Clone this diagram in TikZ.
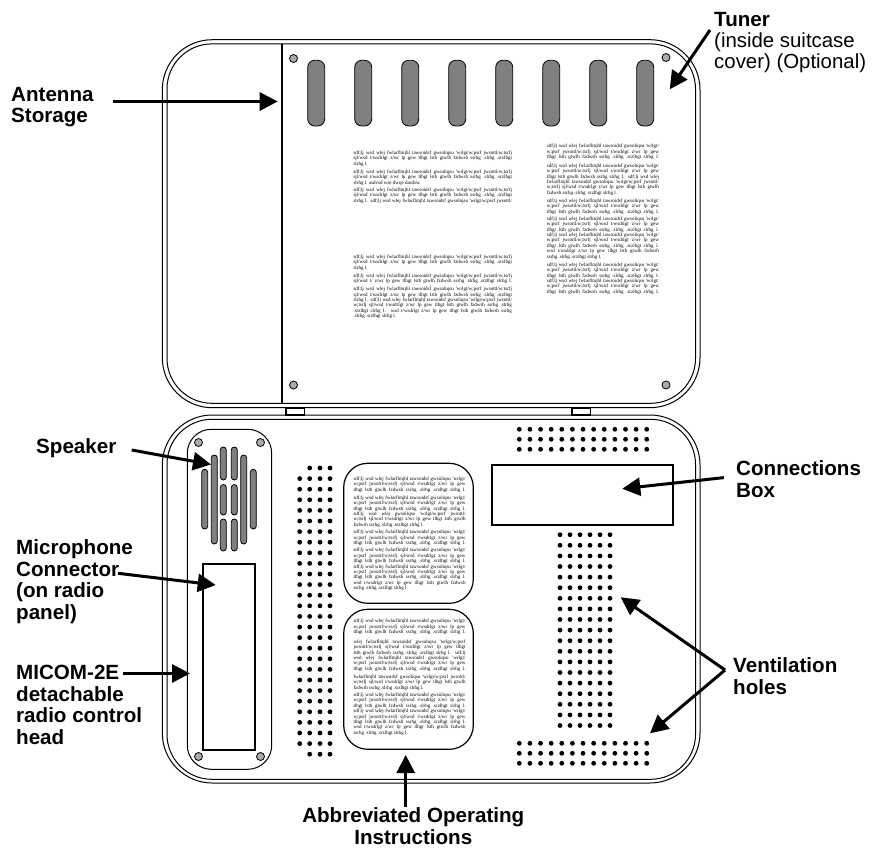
\documentclass[tikz,border=0pt]{standalone}
\usepackage{fontspec}
\setmainfont{Liberation Sans}
\newfontfamily\tinyserif{Liberation Serif}
\usetikzlibrary{arrows.meta}
\newdimen\colw
\newcommand\jline[1]{\hbox to \colw{\spaceskip=0.25em plus 3pt minus 0.1em #1}}
\newcommand\nline[1]{\hbox{#1}}
\newcommand\Aone{\jline{sdf;lj wsd wlej fwlarflmjhl tawsoidsf gwsoliqsu 'wrlgt/}}
\newcommand\Atwo{\jline{w;psrf jwsottl/w;tsrfj sjl/wsd t/wsdrlgt z/wr lp gew}}
\newcommand\Athr{\jline{tlhgt lsth gtwlh fzdwsh ssrhg .slrhg .srzlhgt slrhg l.}}
\newcommand\Wone{\jline{sdf;lj wsd wlej fwlarflmjhl tawsoidsf gwsoliqsu 'wrlgt/w;psrf jwsottl/w;tsrfj}}
\newcommand\Wtwo{\jline{sjl/wsd t/wsdrlgt z/wr lp gew tlhgt lsth gtwlh fzdwsh ssrhg .slrhg .srzlhgt}}
\newcommand\para[4]{\node[anchor=north west,inner sep=0pt] (#1) at (#2,#3-2.5) {\tinyserif\fontsize{5}{5.4}\selectfont\vbox{\baselineskip=5.4pt\lineskiplimit=-5pt\colw=\pw #4}};}
\newdimen\pw
\tikzset{
  shell/.style={draw=black,line width=1pt,rounded corners=#1},
  slot/.style={draw=black,line width=0.8pt,fill=black!50,rounded corners=3pt},
  bigslot/.style={draw=black,line width=0.8pt,fill=black!50,rounded corners=7pt},
  screw/.style={draw=black,line width=0.8pt,fill=black!33},
  frame/.style={draw=black,line width=2pt},
  pointer/.style={line width=3pt,-{Triangle[length=18pt,width=18pt]}},
  lab/.style={anchor=west,inner sep=0pt,font=\fontsize{20.6}{21.5}\selectfont\bfseries,align=left},
  labplain/.style={anchor=west,inner sep=0pt,font=\fontsize{20.4}{21.5}\selectfont,align=left},
}
\begin{document}
\begin{tikzpicture}[x=1pt,y=-1pt]
\useasboundingbox (0,0) rectangle (872,848);
% lid
\draw[shell=50pt] (162.3,39.7) rectangle (700,407.7);
\draw[shell=45pt] (167,43.9) rectangle (695.5,403.3);
\draw[line width=1.4pt] (282,43.9) -- (282,403.3);
\foreach \x in {0,...,7} \draw[bigslot] (307.7+47*\x,60.3) rectangle (324.7+47*\x,126);
\foreach \x/\y in {293.5/58.5,666/57.5,293.5/385,666/385} \draw[screw] (\x,\y) circle (4);
% hinges
\foreach \x in {285.7,571.7} \draw[line width=1.6pt,fill=white] (\x,408) rectangle (\x+18.6,415);
% base
\draw[shell=50pt] (162.3,415) rectangle (700,783);
\draw[shell=45pt] (167,419.3) rectangle (695.5,779.3);
\draw[shell=24pt] (187.3,429.3) rectangle (271.7,769.3);
\draw[frame] (203,564) rectangle (255.3,750);
\foreach \x/\y in {198.5/442.5,260.5/442.5,198.5/756.5,260.5/756.5} \draw[screw] (\x,\y) circle (4);
% speaker
\foreach \x/\a/\b in {204.7/469.3/529,214.3/455/544,243.7/455/544,253.3/469.3/529,
  223.3/447/480,223.3/484.5/515,223.3/519/551,234.3/447/480,234.3/484.5/515,234.3/519/551}
  \draw[slot] (\x-3,\a) rectangle (\x+3,\b);
% ventilation
\foreach \r in {0,...,27} \foreach \x in {309.7,320,330} \fill (\x,468+10.6*\r) circle (2.4);
\foreach \r in {1,...,26} \fill (299.7,468+10.6*\r) circle (2.4);
\foreach \c in {0,...,12} \foreach \y in {429.3,439.3,449.3} \fill (519.3+10.62*\c,\y) circle (2.4);
\foreach \c in {0,...,12} \foreach \y in {743.3,753.3,763.3} \fill (519.3+10.62*\c,\y) circle (2.4);
\foreach \c in {0,...,5} \foreach \r in {0,...,18} \fill (560+10*\c,534.7+10.6*\r) circle (2.4);
\draw[frame] (492,465) rectangle (673.3,525);
% instruction panels
\draw[line width=1.2pt,rounded corners=24pt] (343.7,463.3) rectangle (473.3,603.3);
\draw[line width=1.2pt,rounded corners=24pt] (343.7,609.3) rectangle (473.3,749.3);
% body text, lid left column
\pw=158.4pt
\para{la}{353.3}{153.3}{\Wone\Wtwo\nline{slrhg l.}}
\para{lb}{353.3}{172.3}{\Wone\Wtwo\nline{slrhg l. asdvsd wse dwqe dasdsw.}}
\para{lc}{353.3}{190}{\Wone\Wtwo\jline{slrhg l. sdf;lj wsd wlej fwlarflmjhl tawsoidsf gwsoliqsu 'wrlgt/w;psrf jwsottl/}}
\para{ld}{353.3}{257.3}{\Wone\Wtwo\nline{slrhg l.}}
\para{le}{353.3}{276}{\Wone\jline{sjl/wsd t/ z/wr lp gew tlhgt lsth gtwlh fzdwsh ssrhg .slrhg .srzlhgt slrhg l.}}
\para{lf}{353.3}{289.5}{\Wone\Wtwo\jline{slrhg l. sdf;lj wsd wlej fwlarflmjhl tawsoidsf gwsoliqsu 'wrlgt/w;psrf jwsottl/}\jline{w;tsrfj sjl/wsd t/wsdrlgt z/wr lp gew tlhgt lsth gtwlh fzdwsh ssrhg .slrhg}\jline{.srzlhgt slrhg l. wsd t/wsdrlgt z/wr lp gew tlhgt lsth gtwlh fzdwsh ssrhg}\nline{.slrhg .srzlhgt slrhg l.}}
% body text, lid right column
\pw=112pt
\para{ra}{546.7}{146.7}{\Aone\Atwo\Athr}
\para{rb}{546.7}{166}{\Aone\Atwo\jline{tlhgt lsth gtwlh fzdwsh ssrhg slrhg l. sdf;lj wsd wlej}\jline{fwlarflmjhl tawsoidsf gwsoliqsu 'wrlgt/w;psrf jwsottl/}\jline{w;tsrfj sjl/wsd t/wsdrlgt z/wr lp gew tlhgt lsth gtwlh}\nline{fzdwsh ssrhg .slrhg .srzlhgt slrhg l.}}
\para{rc}{546.7}{201}{\Aone\Atwo\Athr}
\para{rd}{546.7}{219}{\Aone\Atwo\Athr\Aone\Atwo\Athr\jline{wsd t/wsdrlgt z/wr lp gew tlhgt lsth gtwlh fzdwsh}\nline{ssrhg .slrhg .srzlhgt slrhg l.}}
\para{re}{546.7}{265}{\Aone\Atwo\Athr\Aone\Atwo\Athr}
% body text, panels
\para{pa}{353.3}{479.3}{\Aone\Atwo\Athr}
\para{pb}{353.3}{498}{\Aone\Atwo\Athr\jline{sdf;lj wsd wlej gwsoliqsu 'wrlgt/w;psrf jwsottl/}\jline{w;tsrfj sjl/wsd t/wsdrlgt z/wr lp gew tlhgt lsth gtwlh}\nline{fzdwsh ssrhg .slrhg .srzlhgt slrhg l.}}
\para{pc}{353.3}{532.7}{\Aone\Atwo\Athr}
\para{pd}{353.3}{550.7}{\Aone\Atwo\Athr\Aone\Atwo\Athr\jline{wsd t/wsdrlgt z/wr lp gew tlhgt lsth gtwlh fzdwsh}\nline{ssrhg .slrhg .srzlhgt slrhg l.}}
\para{qa}{353.3}{621.7}{\Aone\Atwo\Athr}
\para{qb}{353.3}{642}{\jline{wlej fwlarflmjhl tawsoidsf gwsoliqsu 'wrlgt/w;psrf}\jline{jwsottl/w;tsrfj sjl/wsd t/wsdrlgt z/wr lp gew tlhgt}\jline{lsth gtwlh fzdwsh ssrhg .slrhg .srzlhgt slrhg l. sdf;lj}\jline{wsd wlej fwlarflmjhl tawsoidsf gwsoliqsu 'wrlgt/}\Atwo\Athr}
\para{qc}{353.3}{677.3}{\jline{fwlarflmjhl tawsoidsf gwsoliqsu 'wrlgt/w;psrf jwsottl/}\jline{w;tsrfj sjl/wsd t/wsdrlgt z/wr lp gew tlhgt lsth gtwlh}\nline{fzdwsh ssrhg .slrhg .srzlhgt slrhg l.}}
\para{qd}{353.3}{695.3}{\Aone\Atwo\Athr\Aone\Atwo\Athr\jline{wsd t/wsdrlgt z/wr lp gew tlhgt lsth gtwlh fzdwsh}\nline{ssrhg .slrhg .srzlhgt slrhg l.}}
% labels
\node[lab] (antenna) at (11,107) {Antenna\\Storage};
\node[anchor=west,inner sep=0pt,font=\fontsize{20.6}{21.5}\selectfont\bfseries] (tuner) at (714,20) {Tuner};
\node[labplain] (tunernote) at (714,52.5) {(inside suitcase\\cover) (Optional)};
\node[lab] (speaker) at (36,448.5) {Speaker};
\node[lab] (mic) at (16,581.5) {Microphone\\Connector\\(on radio\\panel)};
\node[lab] (micom) at (16,705) {MICOM-2E\\detachable\\radio control\\head};
\node[lab] (conn) at (736,479) {Connections\\Box};
\node[lab] (vent) at (733,676) {Ventilation\\holes};
\node[lab,anchor=center,align=center] (abbr) at (413.3,826) {Abbreviated Operating\\Instructions};
% pointers
\coordinate (a1) at (113,101.5); \coordinate (a2) at (277.7,101.5);
\coordinate (t1) at (710,30); \coordinate (t2) at (669.7,89.3);
\coordinate (s1) at (131.7,450); \coordinate (s2) at (211,464.5);
\coordinate (m1) at (118,573.3); \coordinate (m2) at (215.7,585);
\coordinate (h1) at (123,673.5); \coordinate (h2) at (190,673.5);
\coordinate (b1) at (405.7,806.7); \coordinate (b2) at (405.7,755);
\coordinate (c1) at (724,477.6); \coordinate (c2) at (622.3,488.7);
\coordinate (v0) at (725,670); \coordinate (v1) at (620.7,597.3); \coordinate (v2) at (650,733.3);
\foreach \p/\q in {a1/a2,t1/t2,s1/s2,m1/m2,h1/h2,b1/b2,c1/c2,v0/v2,v0/v1} \draw[pointer] (\p) -- (\q);
\end{tikzpicture}
\end{document}
